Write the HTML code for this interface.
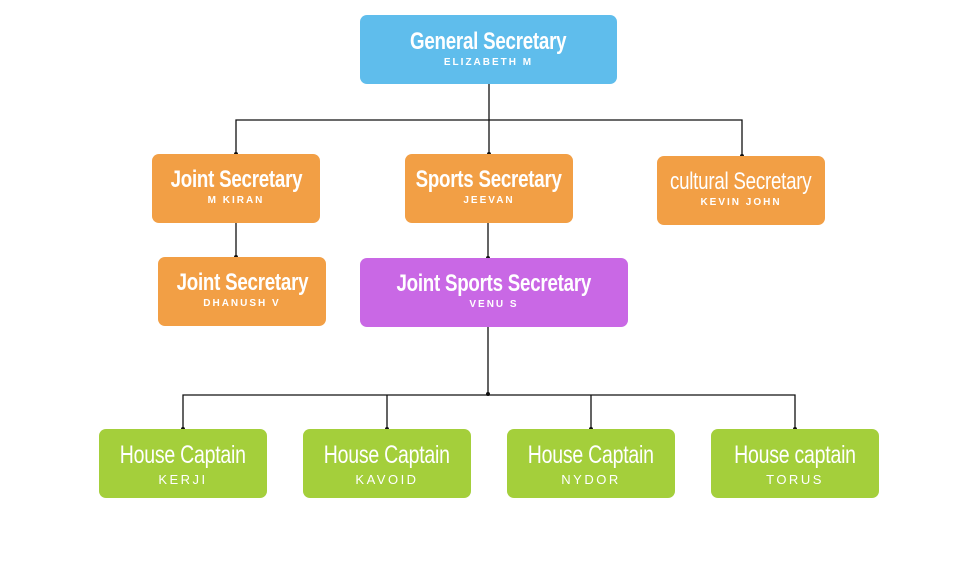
<!DOCTYPE html>
<html><head><style>
body{margin:0;width:972px;height:570px;background:#fff;position:relative;overflow:hidden;font-family:"Liberation Sans",sans-serif}
.b{position:absolute;border-radius:7px;color:#fff;text-align:center;box-sizing:border-box}
.r{display:flex;justify-content:center;width:100%}
.t{font-family:"Liberation Sans Narrow","Liberation Sans",sans-serif;font-weight:bold;font-size:24px;display:inline-block;transform:scaleX(0.78);white-space:nowrap;letter-spacing:-0.3px;flex:none}
.s{font-size:10px;letter-spacing:2px;font-weight:bold;margin-top:1px}
.o{background:#f29f45}.g{background:#a4cf3b}
.g .t{font-weight:normal;font-size:25px}
.g .s{font-size:13px;margin-top:2px;letter-spacing:2.5px;font-weight:normal}
</style></head><body>
<svg width="972" height="570" style="position:absolute;left:0;top:0" stroke="#111" stroke-width="1.3" fill="none">
<path d="M489 84V154M236 154V120H742V156M236 223V257M488 223V258M488 327V395M183 429V395H795V429M387 395V429M591 395V429"/>
<g fill="#111" stroke="none"><circle cx="236" cy="154" r="2"/><circle cx="489" cy="154" r="2"/><circle cx="742" cy="156" r="2"/><circle cx="236" cy="257" r="2"/><circle cx="488" cy="258" r="2"/><circle cx="488" cy="394" r="2"/><circle cx="183" cy="429" r="2"/><circle cx="387" cy="429" r="2"/><circle cx="591" cy="429" r="2"/><circle cx="795" cy="429" r="2"/></g>
</svg>
<div class="b" style="left:360px;top:15px;width:257px;height:69px;background:#5fbdec;padding-top:13px"><div class="r"><div class="t">General Secretary</div></div><div class="s">ELIZABETH M</div></div>
<div class="b o" style="left:152px;top:154px;width:168px;height:69px;padding-top:12px"><div class="r"><div class="t">Joint Secretary</div></div><div class="s">M KIRAN</div></div>
<div class="b o" style="left:405px;top:154px;width:168px;height:69px;padding-top:12px"><div class="r"><div class="t">Sports Secretary</div></div><div class="s">JEEVAN</div></div>
<div class="b o" style="left:657px;top:156px;width:168px;height:69px;padding-top:12px"><div class="r"><div class="t" style="font-weight:normal">cultural Secretary</div></div><div class="s">KEVIN JOHN</div></div>
<div class="b o" style="left:158px;top:257px;width:168px;height:69px;padding-top:12px"><div class="r"><div class="t">Joint Secretary</div></div><div class="s">DHANUSH V</div></div>
<div class="b" style="left:360px;top:258px;width:268px;height:69px;background:#c968e5;padding-top:12px"><div class="r"><div class="t">Joint Sports Secretary</div></div><div class="s">VENU S</div></div>
<div class="b g" style="left:99px;top:429px;width:168px;height:69px;padding-top:12px"><div class="r"><div class="t">House Captain</div></div><div class="s">KERJI</div></div>
<div class="b g" style="left:303px;top:429px;width:168px;height:69px;padding-top:12px"><div class="r"><div class="t">House Captain</div></div><div class="s">KAVOID</div></div>
<div class="b g" style="left:507px;top:429px;width:168px;height:69px;padding-top:12px"><div class="r"><div class="t">House Captain</div></div><div class="s">NYDOR</div></div>
<div class="b g" style="left:711px;top:429px;width:168px;height:69px;padding-top:12px"><div class="r"><div class="t">House captain</div></div><div class="s">TORUS</div></div>
</body></html>
